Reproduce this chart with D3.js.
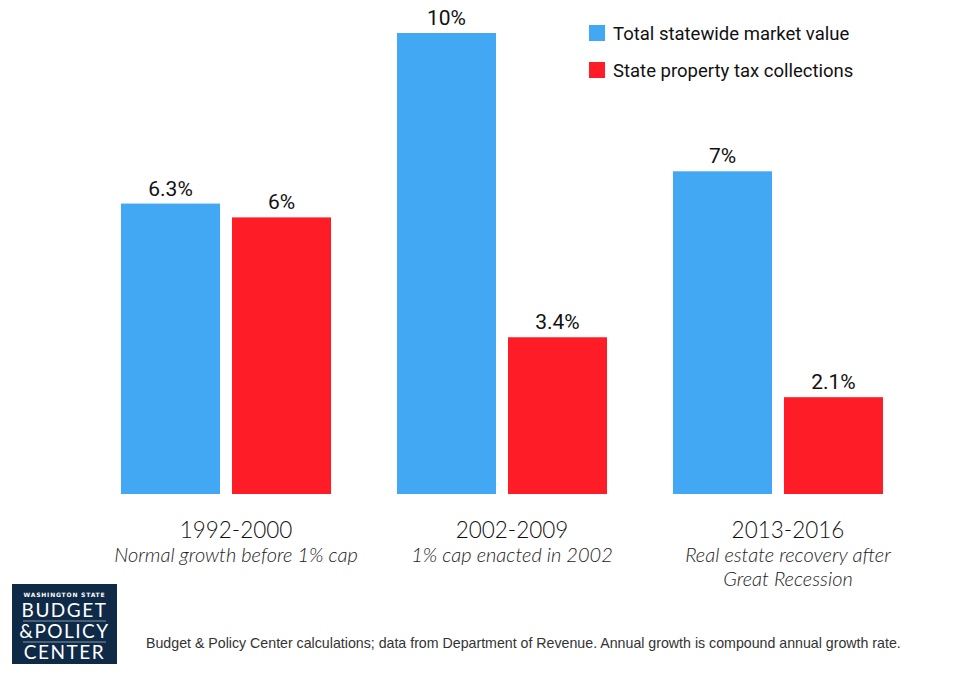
<!DOCTYPE html>
<html>
<head>
<meta charset="utf-8">
<script src="https://cdn.jsdelivr.net/npm/d3@7.9.0/dist/d3.min.js"></script>
<style>
  body { margin: 0; background: #fff; }
  svg { display: block; }
</style>
</head>
<body>
<svg id="chart"></svg>
<script>
const periods = ['1992-2000', '2002-2009', '2013-2016'];
const notes = [
  ['Normal growth before 1% cap'],
  ['1% cap enacted in 2002'],
  ['Real estate recovery after', 'Great Recession']
];
const seriesNames = ['Total statewide market value', 'State property tax collections'];
const marketValue = [6.3, 10, 7];
const taxCollections = [6, 3.4, 2.1];
const valueLabels = [['6.3%', '10%', '7%'], ['6%', '3.4%', '2.1%']];
const source = 'Budget & Policy Center calculations; data from Department of Revenue. Annual growth is compound annual growth rate.';

const colors = ['#42a8f4', '#fe1c27'];
const series = [marketValue, taxCollections];

const width = 969, height = 681;
const baseY = 494;

const svg = d3.select('#chart').attr('width', width).attr('height', height);

const x0 = d3.scaleBand().domain(periods).range([88, 916]).paddingInner(0.239).paddingOuter(0.1196);
const x1 = d3.scaleBand().domain(seriesNames).range([0, x0.bandwidth()]).paddingInner(0.108);
const y = d3.scaleLinear().domain([0, 10]).range([baseY, 33]);

const groups = svg.selectAll('g.grp')
  .data(periods)
  .join('g')
  .attr('class', 'grp')
  .attr('transform', d => `translate(${x0(d)},0)`);

seriesNames.forEach((s, si) => {
  groups.append('rect')
    .attr('x', x1(s))
    .attr('width', x1.bandwidth())
    .attr('y', (d, i) => y(series[si][i]))
    .attr('height', (d, i) => baseY - y(series[si][i]))
    .attr('fill', colors[si]);

  groups.append('text')
    .attr('x', x1(s) + x1.bandwidth() / 2)
    .attr('y', (d, i) => y(series[si][i]) - 8)
    .attr('text-anchor', 'middle')
    .style('font-family', 'Roboto, sans-serif')
    .style('font-size', '21px')
    .attr('fill', '#111')
    .text((d, i) => valueLabels[si][i]);
});

// category labels (sit a little right of the group centre in the original)
const labelX = x0.bandwidth() / 2 + 10;
groups.append('text')
  .attr('x', labelX)
  .attr('y', 538)
  .attr('text-anchor', 'middle')
  .style('font-family', 'Lato, sans-serif')
  .style('font-size', '22.5px')
  .style('font-weight', 300)
  .attr('fill', '#111')
  .text(d => d);

groups.each(function (d, i) {
  const g = d3.select(this);
  notes[i].forEach((line, li) => {
    g.append('text')
      .attr('x', labelX)
      .attr('y', 562 + li * 24)
      .attr('text-anchor', 'middle')
      .style('font-family', 'Lato, sans-serif')
      .style('font-size', '20px')
      .style('font-style', 'italic')
      .style('font-weight', 300)
      .attr('fill', '#222')
      .text(line);
  });
});

// legend
const legend = svg.append('g').attr('transform', 'translate(589,25)');
seriesNames.forEach((s, i) => {
  legend.append('rect')
    .attr('x', 0).attr('y', i * 37)
    .attr('width', 16).attr('height', 16)
    .attr('fill', colors[i]);
  legend.append('text')
    .attr('x', 24).attr('y', i * 37 + 15)
    .style('font-family', 'Roboto, sans-serif')
    .style('font-size', '18.5px')
    .attr('fill', '#111')
    .text(s);
});

// logo
const logo = svg.append('g').attr('transform', 'translate(12,584)');
logo.append('rect').attr('width', 105).attr('height', 80).attr('fill', '#0f2a47');
logo.append('text').attr('x', 52.5).attr('y', 13).attr('text-anchor', 'middle')
  .style('font-family', 'DejaVu Sans, sans-serif').style('font-size', '6px').style('font-weight', 'bold')
  .style('letter-spacing', '0.8px').attr('fill', '#fff').text('WASHINGTON STATE');
[['BUDGET', 33], ['&POLICY', 54], ['CENTER', 75]].forEach(([t, ty]) => {
  logo.append('text').attr('x', 52.5).attr('y', ty).attr('text-anchor', 'middle')
    .style('font-family', 'Lato, sans-serif').style('font-size', '19px')
    .style('letter-spacing', '1.5px').attr('fill', '#fff').text(t);
});
[37, 58].forEach(ly => {
  logo.append('line').attr('x1', 11).attr('x2', 94).attr('y1', ly).attr('y2', ly)
    .attr('stroke', '#9fb0c4').attr('stroke-width', 0.8);
});

// source
svg.append('text')
  .attr('x', 146).attr('y', 648)
  .style('font-family', 'Liberation Sans, Arial, sans-serif')
  .style('font-size', '14.2px')
  .attr('fill', '#333')
  .text(source);
</script>
</body>
</html>
